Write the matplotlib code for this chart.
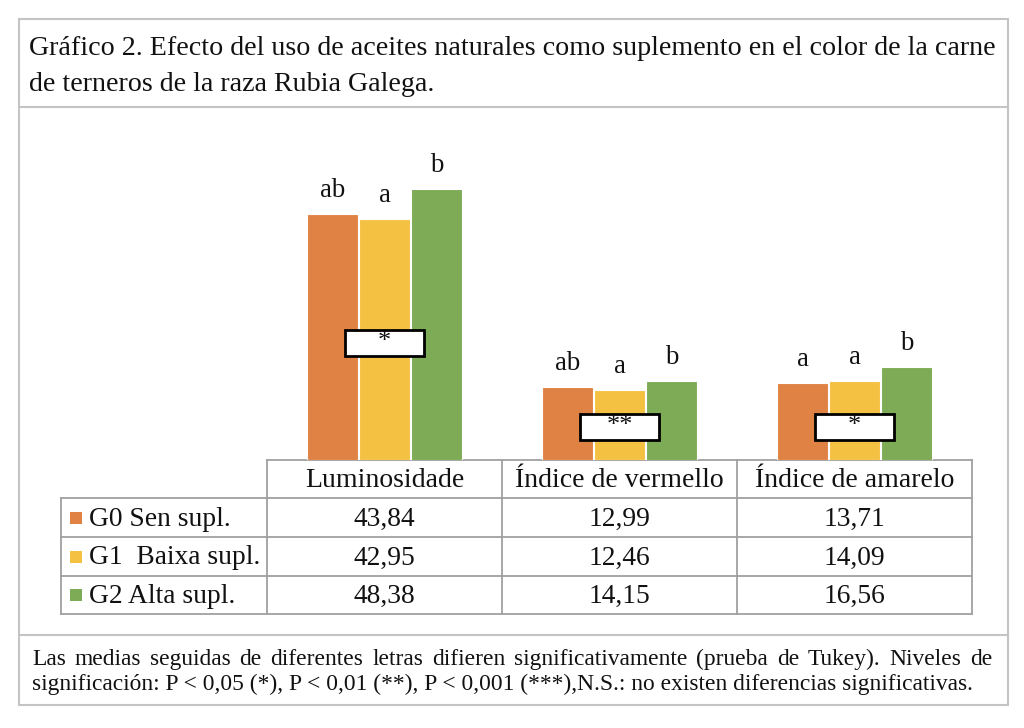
import matplotlib
matplotlib.use('Agg')
import matplotlib.pyplot as plt
from matplotlib.patches import Rectangle

# ---------------- data ----------------
categories = ['Luminosidade', 'Índice de vermello', 'Índice de amarelo']
groups = ['G0 Sen supl.', 'G1  Baixa supl.', 'G2 Alta supl.']
g0_values = [43.84, 12.99, 13.71]
g1_values = [42.95, 12.46, 14.09]
g2_values = [48.38, 14.15, 16.56]
g0_letters = ['ab', 'ab', 'a']
g1_letters = ['a', 'a', 'a']
g2_letters = ['b', 'b', 'b']
significance = ['*', '**', '*']

title_lines = ['Gráfico 2. Efecto del uso de aceites naturales como suplemento en el color de la carne',
               'de terneros de la raza Rubia Galega.']
note_lines = ['Las medias seguidas de diferentes letras difieren significativamente (prueba de Tukey). Niveles de',
              'significación: P < 0,05 (*), P < 0,01 (**), P < 0,001 (***),N.S.: no existen diferencias significativas.']

# ---------------- styles / layout ----------------
colors = ['#DF8244', '#F4C142', '#7EAB55']
FONT = 'Liberation Serif'
W, H = 1024, 728
sig_box_y = [20.8, 5.9, 5.9]       # vertical centre of significance boxes (data units)
PX_PER_UNIT = 5.61
TXT = '#111111'

plt.rcParams['font.family'] = [FONT, 'DejaVu Serif']

fig = plt.figure(figsize=(W / 100, H / 100), dpi=100)
fig.patch.set_facecolor('white')

# overlay axes in pixel coordinates
ov = fig.add_axes([0, 0, 1, 1])
ov.set_xlim(0, W)
ov.set_ylim(H, 0)
ov.axis('off')

# outer frame & separators
frame_c = '#c4c4c4'
ov.add_patch(Rectangle((19, 19), 1008 - 19, 705 - 19, fill=False, ec=frame_c, lw=1.5))
ov.plot([19, 1008], [107, 107], color=frame_c, lw=1.5)
ov.plot([19, 1008], [635, 635], color=frame_c, lw=1.5)

# title
ov.text(29, 55, title_lines[0], fontsize=20.2, va='baseline', ha='left', color=TXT)
ov.text(29, 91, title_lines[1], fontsize=20.2, va='baseline', ha='left', color=TXT)

# ---------------- bars ----------------
top_px = 130
base_px = 460
ax = fig.add_axes([267 / W, 1 - base_px / H, (972 - 267) / W, (base_px - top_px) / H])
ax.set_xlim(-0.5, len(categories) - 0.5)
ax.set_ylim(0, (base_px - top_px) / PX_PER_UNIT)
ax.axis('off')
ax.patch.set_alpha(0)

bw = 0.217
off = 0.221
series = [g0_values, g1_values, g2_values]
letters = [g0_letters, g1_letters, g2_letters]
xs = list(range(len(categories)))
for i, (vals, let) in enumerate(zip(series, letters)):
    pos = [x + (i - 1) * off for x in xs]
    ax.bar(pos, vals, width=bw, color=colors[i], edgecolor='white', linewidth=0.8)
    for p, v, l in zip(pos, vals, let):
        ax.text(p, v + 3.0, l, ha='center', va='baseline', fontsize=19.3, color=TXT)

box_w = 0.34
box_h = 4.6
for x, s, by in zip(xs, significance, sig_box_y):
    ax.add_patch(Rectangle((x - box_w / 2, by - box_h / 2), box_w, box_h,
                           facecolor='white', edgecolor='black', lw=2, zorder=5))
    ax.text(x, by + 0.2, s, ha='center', va='center', fontsize=19, zorder=6, color=TXT)

# ---------------- table ----------------
tc = '#a0a0a0'
col_edges = [267, 502, 737, 972]
row_edges = [460, 498, 537, 576, 614]
left_edge = 61
lw_t = 1.3
ov.plot([267, 972], [460, 460], color=tc, lw=lw_t)
for y in row_edges[1:]:
    ov.plot([left_edge, 972], [y, y], color=tc, lw=lw_t)
for x in col_edges:
    ov.plot([x, x], [460, 614], color=tc, lw=lw_t)
ov.plot([left_edge, left_edge], [498, 614], color=tc, lw=lw_t)

col_centers = [(col_edges[i] + col_edges[i + 1]) / 2 for i in range(3)]
for cx, c in zip(col_centers, categories):
    ov.text(cx, 487, c, ha='center', va='baseline', fontsize=20, color=TXT)

row_base = [526, 564.5, 603]
row_mid = [(row_edges[i + 1] + row_edges[i + 2]) / 2 for i in range(3)]
for i, (g, vals) in enumerate(zip(groups, series)):
    ov.add_patch(Rectangle((70, row_mid[i] - 6), 12, 12, facecolor=colors[i], edgecolor='none'))
    ov.text(89, row_base[i], g, ha='left', va='baseline', fontsize=19.8, color=TXT)
    for cx, v in zip(col_centers, vals):
        ov.text(cx, row_base[i], f'{v:.2f}'.replace('.', ','), ha='center', va='baseline',
                fontsize=19.8, color=TXT)

# ---------------- footnote ----------------
def justify(text, x0, x1, y, **kw):
    words = text.split(' ')
    objs = [ov.text(0, y, w, va='baseline', ha='left', **kw) for w in words]
    r = fig.canvas.get_renderer()
    widths = [o.get_window_extent(r).width for o in objs]
    gap = (x1 - x0 - sum(widths)) / (len(words) - 1)
    x = x0
    for o, w in zip(objs, widths):
        o.set_x(x)
        x += w + gap

justify(note_lines[0], 32, 992, 665, fontsize=16.9, color=TXT)
ov.text(32, 690, note_lines[1], va='baseline', ha='left', fontsize=16.9, color=TXT)

fig.savefig('out.png', dpi=100, facecolor='white')
